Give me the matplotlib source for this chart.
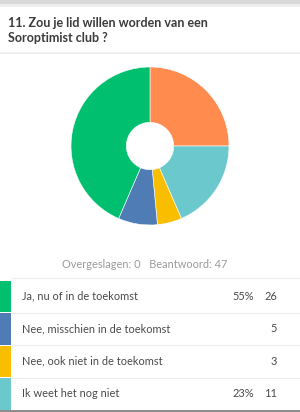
import matplotlib
matplotlib.use("Agg")
import matplotlib.pyplot as plt
from matplotlib.patches import Rectangle

# ---- data ----
title_lines = ["11. Zou je lid willen worden van een", "Soroptimist club ?"]
summary_text = "Overgeslagen: 0   Beantwoord: 47"

pie_names = ["Onbekend", "Ik weet het nog niet", "Nee, ook niet in de toekomst",
             "Nee, misschien in de toekomst", "Ja, nu of in de toekomst"]
pie_shares = [25.0, 18.5, 5.0, 8.0, 43.5]
pie_colors = ["#FF8B4F", "#6BC8CD", "#F9BE00", "#507CB6", "#00BF6F"]

row_labels = ["Ja, nu of in de toekomst", "Nee, misschien in de toekomst",
              "Nee, ook niet in de toekomst", "Ik weet het nog niet"]
row_pcts = ["55%", "", "", "23%"]
row_counts = [26, 5, 3, 11]
row_colors = ["#00BF6F", "#507CB6", "#F9BE00", "#6BC8CD"]

W, H = 300, 412
fig = plt.figure(figsize=(W / 100, H / 100), dpi=100)
fig.patch.set_facecolor("white")

# overlay axes in pixel coordinates
ax = fig.add_axes([0, 0, 1, 1])
ax.set_xlim(0, W)
ax.set_ylim(H, 0)
ax.axis("off")

FONT = "Lato"

# top gray band
ax.add_patch(Rectangle((0, 0), W, 4, color="#d9d9d9", lw=0))
ax.add_patch(Rectangle((0, 4), W, 3, color="#eeeeee", lw=0))

for i, t in enumerate(title_lines):
    ax.text(8, 23 + i * 15, t, fontsize=9.0, fontweight="bold", color="#3b3b3b",
            family=FONT, va="center", ha="left")

ax.plot([0, W], [53, 53], color="#ececec", lw=1.2)

ax.text(145, 264, summary_text, fontsize=7.9, color="#9a9a9a", family=FONT,
        ha="center", va="center")
ax.plot([12, W], [278, 278], color="#ececec", lw=0.8)

row_top = 280
row_h = 32.5
for i, (lab, pct, cnt, col) in enumerate(zip(row_labels, row_pcts, row_counts, row_colors)):
    y0 = row_top + i * row_h
    ax.add_patch(Rectangle((0, y0 + 0.5), 10.5, row_h - 1, color=col, lw=0))
    yc = y0 + row_h / 2
    ax.text(22, yc, lab, fontsize=7.9, color="#4a4a4a", family=FONT,
            ha="left", va="center")
    if pct:
        ax.text(254, yc, pct, fontsize=7.9, color="#4a4a4a", family=FONT,
                ha="right", va="center")
    ax.text(277, yc, str(cnt), fontsize=7.9, color="#4a4a4a", family=FONT,
            ha="right", va="center")
    if i < len(row_labels) - 1:
        ax.plot([12, W], [y0 + row_h, y0 + row_h], color="#ececec", lw=0.8)

ax.plot([0, W], [410.5, 410.5], color="#777777", lw=1.2)

# donut
cx, cy, r = 150, 146, 79
pax = fig.add_axes([(cx - r) / W, 1 - (cy + r) / H, 2 * r / W, 2 * r / H])
pax.pie(pie_shares, colors=pie_colors, startangle=90, counterclock=False,
        radius=1, wedgeprops=dict(width=0.70, edgecolor="white", linewidth=0.4))
pax.set_xlim(-1, 1)
pax.set_ylim(-1, 1)
pax.set_aspect("equal")
pax.axis("off")

fig.savefig("out.png", dpi=100, facecolor="white")
